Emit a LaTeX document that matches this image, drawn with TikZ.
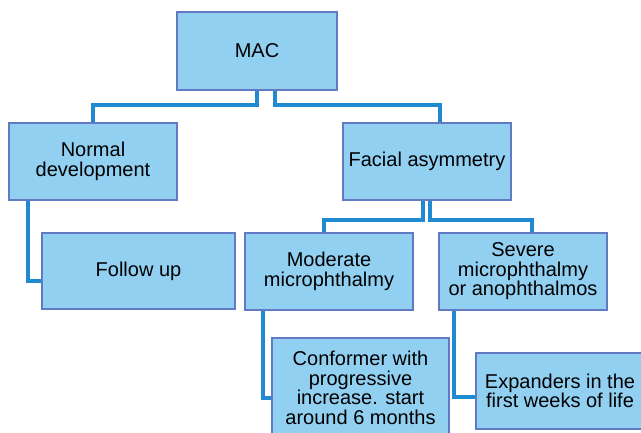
\documentclass[tikz,border=0pt]{standalone}
\usepackage{fontspec}
\setmainfont{Liberation Sans}
\usetikzlibrary{backgrounds}
\definecolor{boxfill}{RGB}{146,208,242}
\definecolor{boxline}{RGB}{98,122,196}
\definecolor{connc}{RGB}{32,138,208}
\begin{document}
\begin{tikzpicture}[x=1pt,y=-1pt,
  box/.style={draw=boxline, fill=boxfill, line width=1.3pt, inner sep=0pt,
    align=center, font=\fontsize{20}{19.5}\selectfont},
  conn/.style={draw=connc, line width=4pt}]
\useasboundingbox (0,0) rectangle (641,433);
\clip (0,0) rectangle (641,433);
\node[box, minimum width=160pt, minimum height=78pt] (mac) at (257,51) {MAC};
\node[box, minimum width=168pt, minimum height=77pt] (normal) at (93,161.5) {Normal\\development};
\node[box, minimum width=168pt, minimum height=77pt] (facial) at (427,161.5) {Facial asymmetry};
\node[box, minimum width=193pt, minimum height=76pt] (followup) at (138.5,271) {Follow up};
\node[box, minimum width=168pt, minimum height=77pt] (moderate) at (329,271.5) {Moderate\\microphthalmy};
\node[box, minimum width=168pt, minimum height=77pt] (severe) at (523,271.5) {Severe\\microphthalmy\\or anophthalmos};
\node[box, minimum width=177pt, minimum height=100pt] (conformer) at (360.5,388) {Conformer with\\progressive\\increase. start\\around 6 months};
\node[box, minimum width=168pt, minimum height=76pt] (expanders) at (560,391) {Expanders in the\\first weeks of life};
\begin{pgfonlayer}{background}
\draw[conn] (mac.south) -- ++(0,14) -| (normal.north);
\draw[conn] ([xshift=18pt]mac.south) -- ++(0,14) -| ([xshift=13pt]facial.north);
\draw[conn] ([xshift=-4pt]facial.south) -- ++(0,19) -| ([xshift=-5pt]moderate.north);
\draw[conn] ([xshift=3pt]facial.south) -- ++(0,19) -| ([xshift=9pt]severe.north);
\draw[conn] ([xshift=-65pt]normal.south) |- ([yshift=-10pt]followup.west);
\draw[conn] ([xshift=-66pt]moderate.south) |- ([yshift=-10pt]conformer.west);
\draw[conn] ([xshift=-69pt]severe.south) |- ([yshift=-6pt]expanders.west);
\end{pgfonlayer}
\end{tikzpicture}
\end{document}
